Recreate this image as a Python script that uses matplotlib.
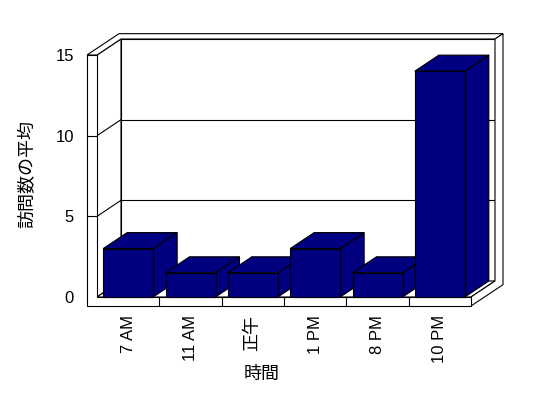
import matplotlib
matplotlib.use('Agg')
import matplotlib.pyplot as plt
from matplotlib.patches import Polygon

plt.rcParams['font.family'] = ['Liberation Sans', 'Noto Sans CJK JP']

# data
hours = ['7 AM', '11 AM', '正午', '1 PM', '8 PM', '10 PM']
visits = [3, 1.5, 1.5, 3, 1.5, 14]
yticks = [0, 5, 10, 15]
ymax = 15

NAVY = '#000080'
LW = 0.8

fig = plt.figure(figsize=(5.48, 3.98), dpi=100)
ax = fig.add_axes([97/548, 101/398, 374/548, 242/398])
ax.set_xlim(-0.5, len(hours) - 0.5)
ax.set_ylim(0, ymax)

# pseudo-3d geometry (in data units)
DX = 24 / (374 / len(hours))   # depth shift along x
DY = 16 / (242 / ymax)         # depth shift along y
DO = 4 / 3                     # outer depth of walls
tw = 10 / (374 / len(hours))   # left wall thickness
ft = 9 / (242 / ymax)          # floor thickness
hw = 25 / (374 / len(hours))   # half bar width
xl, xr = -0.5, len(hours) - 0.5


def P(x, y, d=0):
    return (x + d * DX, y + d * DY)


def face(pts, fc='white', z=1):
    ax.add_patch(Polygon(pts, closed=True, fc=fc, ec='black', lw=LW,
                         clip_on=False, zorder=z, joinstyle='miter'))


def line(a, b, z=1.5):
    ax.plot([a[0], b[0]], [a[1], b[1]], color='black', lw=LW,
            clip_on=False, zorder=z)


# back wall and left wall inner face, with gridlines
face([P(xl, 0, 1), P(xr, 0, 1), P(xr, ymax, 1), P(xl, ymax, 1)])
face([P(xl, 0, 0), P(xl, 0, 1), P(xl, ymax, 1), P(xl, ymax, 0)])
for t in yticks[1:-1]:
    line(P(xl, t, 1), P(xr, t, 1))
    line(P(xl, t, 0), P(xl, t, 1))

# floor top
face([P(xl, 0, 0), P(xr, 0, 0), P(xr, 0, 1), P(xl, 0, 1)], z=2)

# top of walls
face([P(xl - tw, ymax, 0), P(xl, ymax, 0), P(xl, ymax, 1), P(xr, ymax, 1),
      P(xr, ymax, DO), P(xl - tw, ymax, DO)], z=2)
# right side of floor + back wall
face([P(xr, 0, 0), P(xr, -ft, 0), P(xr, -ft, DO), P(xr, ymax, DO),
      P(xr, ymax, 1), P(xr, 0, 1)], z=2)
# front of left wall + floor
face([P(xl - tw, -ft), P(xr, -ft), P(xr, 0), P(xl, 0), P(xl, ymax),
      P(xl - tw, ymax)], z=2)
for t in yticks[1:-1]:
    line(P(xl - tw, t), P(xl, t), z=2.5)
for i in range(1, len(hours)):
    line(P(i - 0.5, -ft), P(i - 0.5, 0), z=2.5)

# bars
for i, v in enumerate(visits):
    x0, x1 = i - hw, i + hw
    z = 3 + i * 0.1
    face([P(x1, 0, 0), P(x1, 0, 1), P(x1, v, 1), P(x1, v, 0)], NAVY, z)
    face([P(x0, v, 0), P(x1, v, 0), P(x1, v, 1), P(x0, v, 1)], NAVY, z)
    face([P(x0, 0), P(x1, 0), P(x1, v), P(x0, v)], NAVY, z)

for s in ax.spines.values():
    s.set_visible(False)
ax.patch.set_visible(False)

ax.set_yticks(yticks)
ax.set_xticks(range(len(hours)))
ax.set_xticklabels(hours, rotation=90)
ax.tick_params(axis='both', length=0, labelsize=12)
ax.tick_params(axis='x', pad=13)
ax.tick_params(axis='y', pad=16.5)
for lab in ax.get_xticklabels():
    if lab.get_text() == '正午':
        lab.set_fontsize(13)

ax.set_xlabel('時間', fontsize=13)
ax.xaxis.set_label_coords(0.441, -0.285)
ax.set_ylabel('訪問数の平均', fontsize=13)
ax.yaxis.set_label_coords(-0.163, 0.508)

fig.savefig('out.png', dpi=100)
